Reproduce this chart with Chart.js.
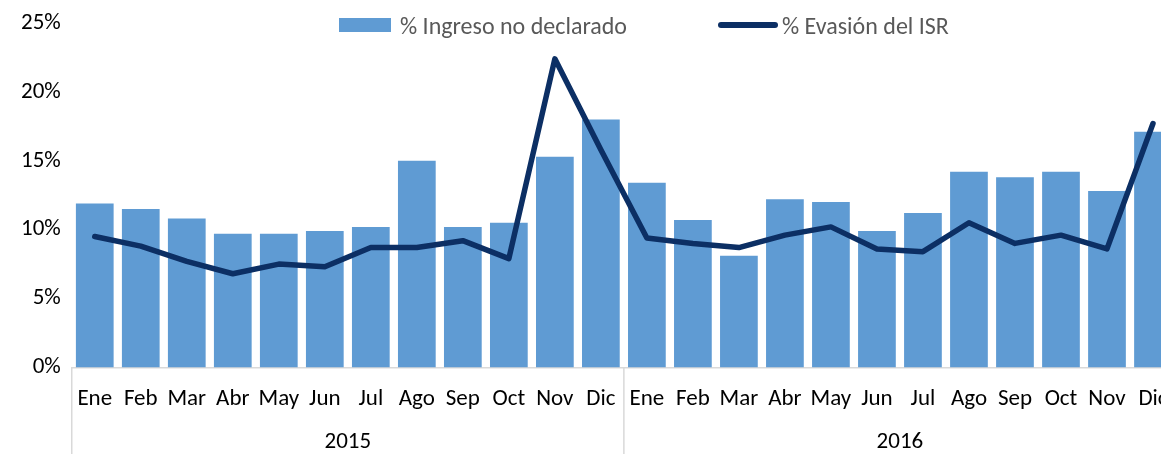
<!DOCTYPE html>
<html lang="es">
<head>
<meta charset="UTF-8">
<title>Ingreso no declarado y evasión del ISR</title>
<script src="https://cdn.jsdelivr.net/npm/chart.js@4.4.1/dist/chart.umd.min.js"></script>
<style>
  html, body { margin: 0; padding: 0; background: #fff; overflow: hidden; }
  body { width: 1161px; height: 454px; position: relative; font-family: Carlito, Lato, "Open Sans", sans-serif; }
  .wrap { position: absolute; left: 0; top: 0; width: 1178px; height: 454px; }
  .leyenda { position: absolute; top: 8px; font-size: 24px; color: #595959; white-space: nowrap; }
  .leyenda span { display: inline-block; vertical-align: middle; }
  .caja { width: 52px; height: 14px; background: #5F9BD3; margin-right: 9px; }
  .raya { width: 60px; height: 6px; border-radius: 3px; background: #0C2F64; margin-right: 4px; }
</style>
</head>
<body>
  <div class="wrap"><canvas id="grafica"></canvas></div>
  <div class="leyenda" style="left:339px"><span class="caja"></span><span>% Ingreso no declarado</span></div>
  <div class="leyenda" style="left:718px"><span class="raya"></span><span>% Evasión del ISR</span></div>

<script>
  // datos
  var meses = ['Ene', 'Feb', 'Mar', 'Abr', 'May', 'Jun', 'Jul', 'Ago', 'Sep', 'Oct', 'Nov', 'Dic'];
  var anios = ['2015', '2016'];
  var etiquetas = meses.concat(meses);

  var ingresoNoDeclarado = [11.9, 11.5, 10.8, 9.7, 9.7, 9.9, 10.2, 15.0, 10.2, 10.5, 15.3, 18.0,
                            13.4, 10.7, 8.1, 12.2, 12.0, 9.9, 11.2, 14.2, 13.8, 14.2, 12.8, 17.1];
  var evasionISR = [9.5, 8.8, 7.7, 6.8, 7.5, 7.3, 8.7, 8.7, 9.2, 7.9, 22.4, 15.8,
                    9.4, 9.0, 8.7, 9.6, 10.2, 8.6, 8.4, 10.5, 9.0, 9.6, 8.6, 17.7];

  var fuente = "Carlito, Lato, 'Open Sans', sans-serif";
  var tam = 23;

  // lineas verticales que separan los anios debajo del eje
  var separadores = {
    id: 'separadores',
    afterDraw: function(chart) {
      var x = chart.scales.x;
      var ctx = chart.ctx;
      var paso = x.getPixelForValue(1) - x.getPixelForValue(0);
      ctx.save();
      ctx.strokeStyle = '#d9d9d9';
      ctx.lineWidth = 1.5;
      [0, meses.length, etiquetas.length].forEach(function(i) {
        var px = x.getPixelForValue(0) - paso / 2 + i * paso;
        ctx.beginPath();
        ctx.moveTo(px, chart.chartArea.bottom);
        ctx.lineTo(px, chart.height);
        ctx.stroke();
      });
      ctx.restore();
    }
  };

  // quitar el relleno extra que chart.js agrega por las etiquetas
  function sinRellenoX(s) { s.paddingLeft = 0; s.paddingRight = 0; }
  function sinRellenoY(s) { s.paddingTop = 0; s.paddingBottom = 0; }

  var grafica = new Chart(document.getElementById('grafica').getContext('2d'), {
    type: 'bar',
    data: {
      labels: etiquetas,
      datasets: [
        {
          type: 'line',
          label: '% Evasión del ISR',
          data: evasionISR,
          borderColor: '#0C2F64',
          borderWidth: 5.5,
          pointRadius: 0,
          tension: 0,
          borderJoinStyle: 'round',
          borderCapStyle: 'round',
          order: 0
        },
        {
          type: 'bar',
          label: '% Ingreso no declarado',
          data: ingresoNoDeclarado,
          backgroundColor: '#5F9BD3',
          barPercentage: 0.82,
          categoryPercentage: 1,
          order: 1
        }
      ]
    },
    options: {
      responsive: true,
      maintainAspectRatio: false,
      animation: false,
      layout: { padding: { top: 23, left: 10, right: 2, bottom: 0 } },
      plugins: {
        legend: { display: false },
        tooltip: { enabled: false }
      },
      scales: {
        x: {
          afterFit: sinRellenoX,
          grid: { display: false, drawTicks: false },
          border: { color: '#d9d9d9', width: 1.5 },
          ticks: { autoSkip: false, maxRotation: 0, color: '#000', padding: 18, font: { family: fuente, size: tam } }
        },
        x2: {
          type: 'category',
          labels: anios,
          position: 'bottom',
          offset: true,
          afterFit: sinRellenoX,
          grid: { display: false, drawTicks: false },
          border: { display: false },
          ticks: { color: '#000', padding: 0, font: { family: fuente, size: tam, lineHeight: 1 } }
        },
        y: {
          min: 0,
          max: 25,
          afterFit: sinRellenoY,
          grid: { display: false, drawTicks: false },
          border: { display: false },
          ticks: {
            stepSize: 5,
            color: '#000',
            padding: 11,
            font: { family: fuente, size: tam },
            callback: function(v) { return v + '%'; }
          }
        }
      }
    },
    plugins: [separadores]
  });
</script>
</body>
</html>
